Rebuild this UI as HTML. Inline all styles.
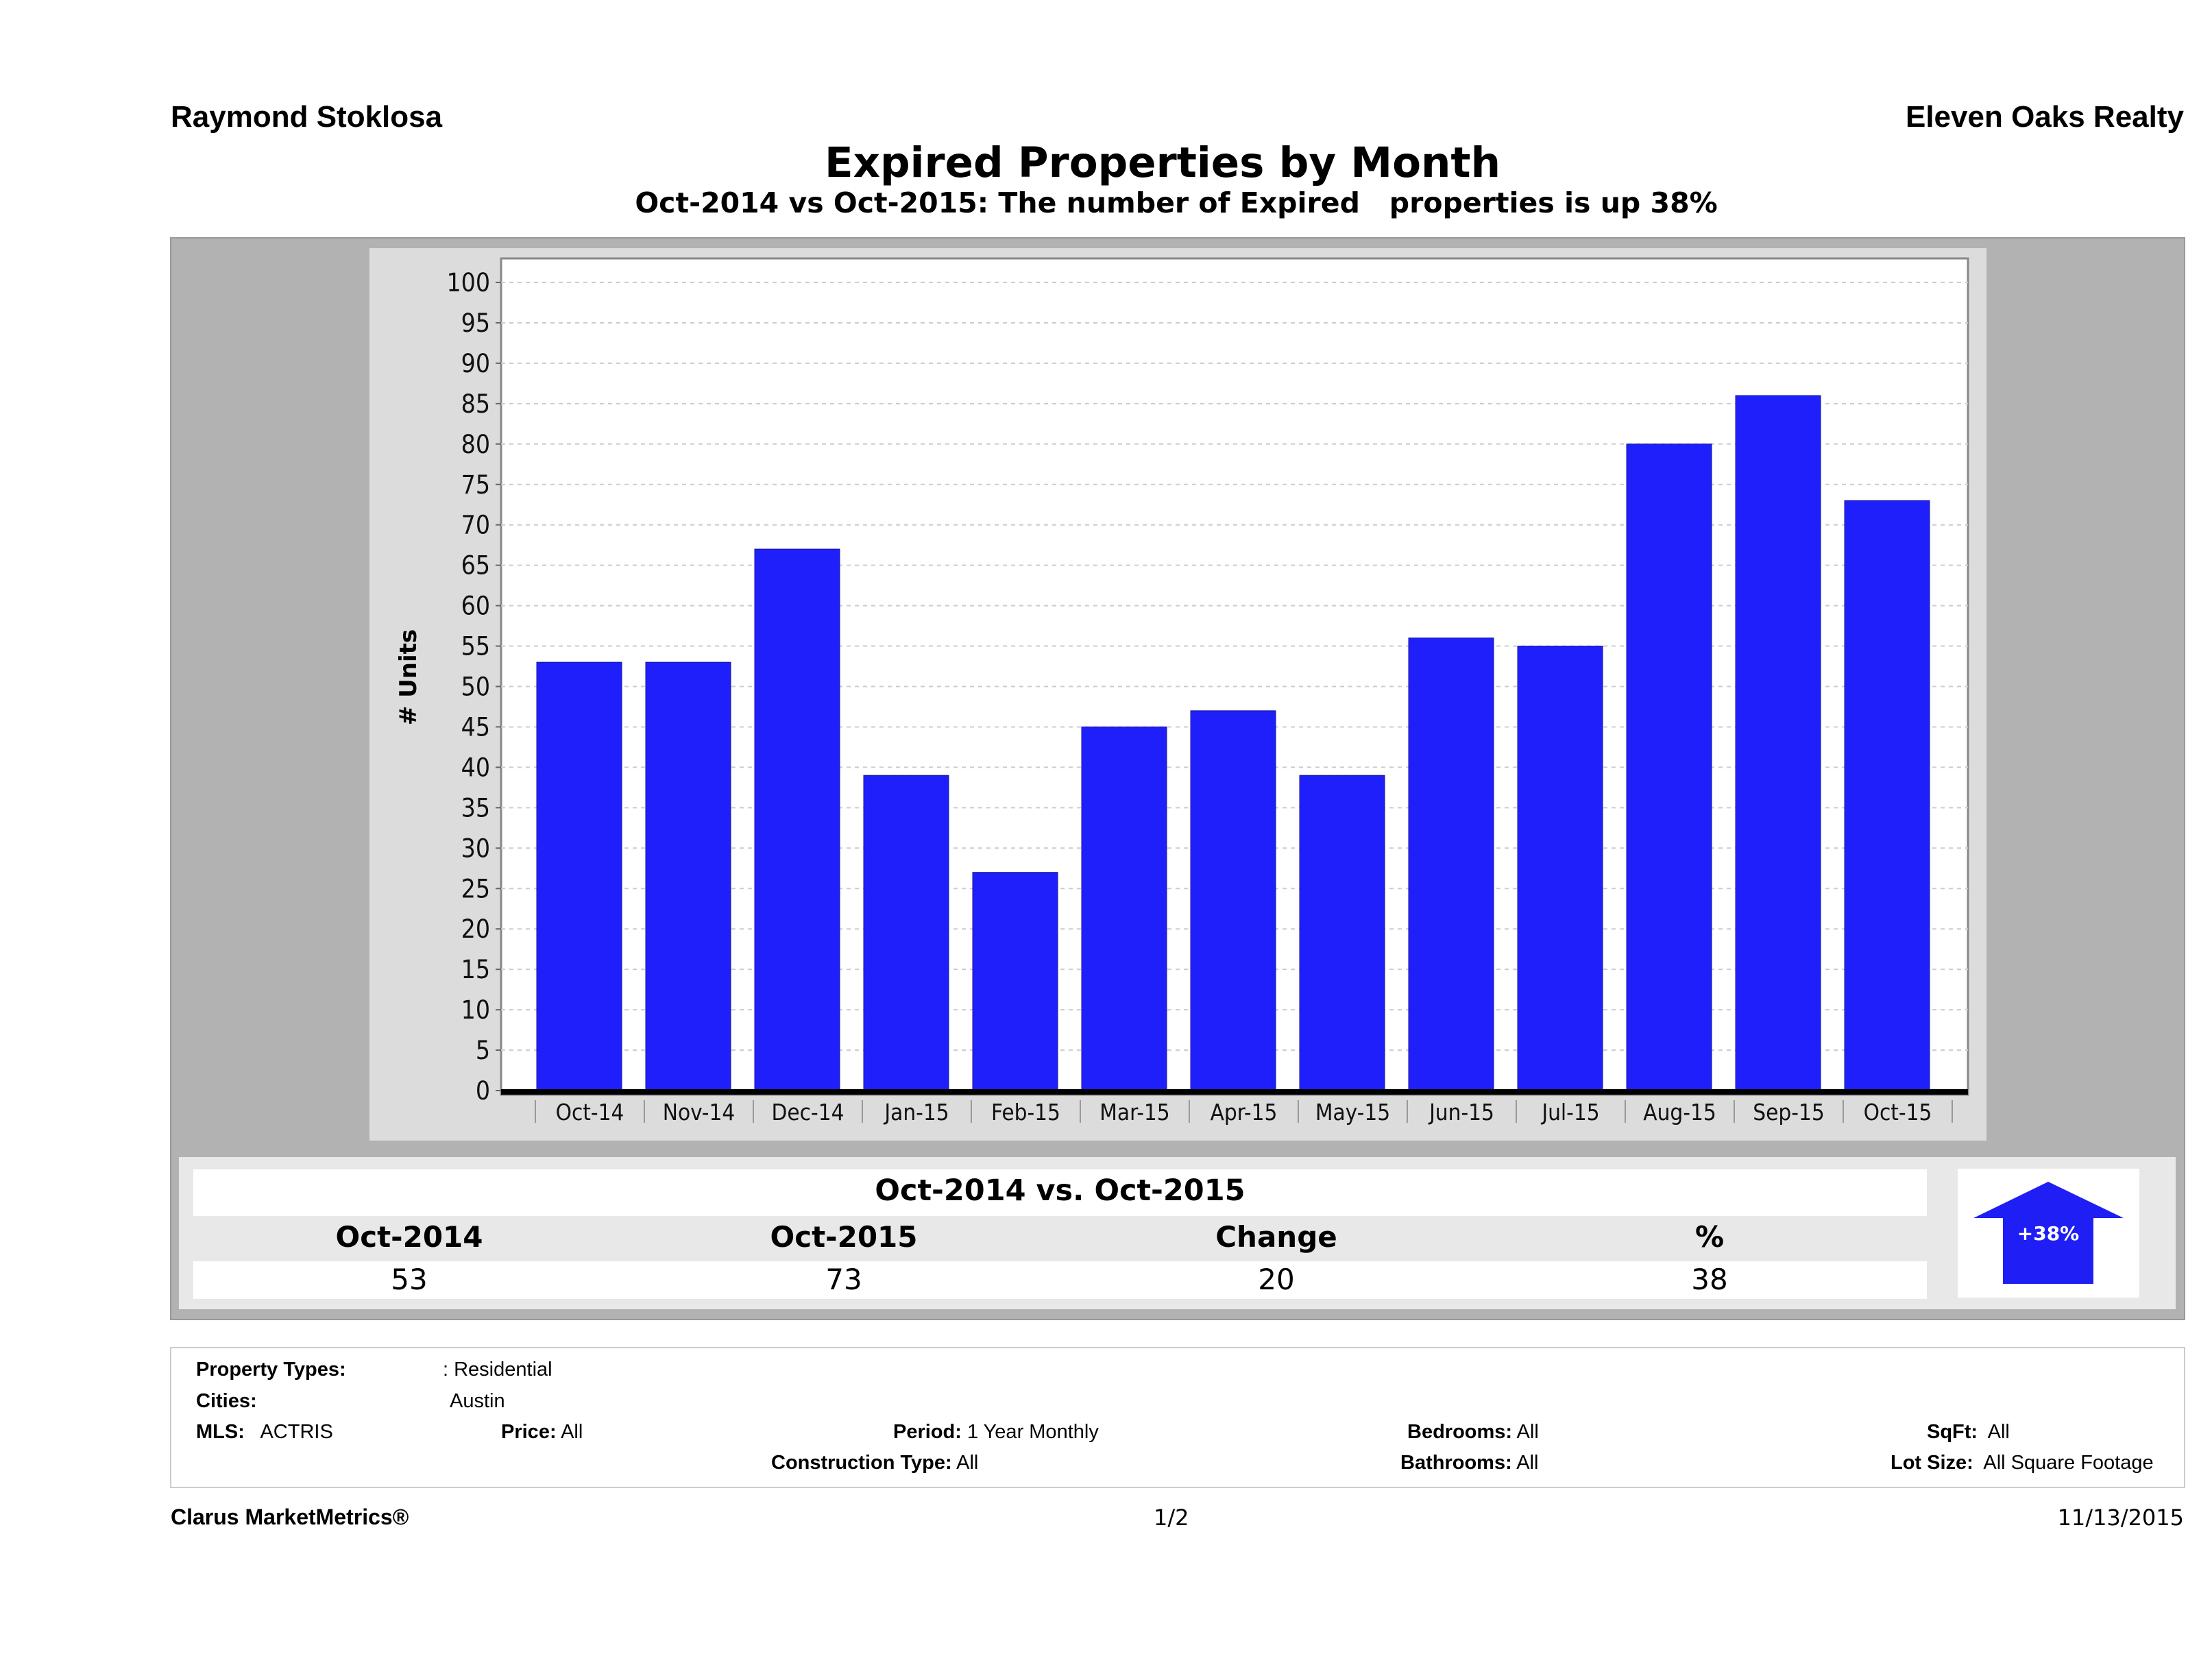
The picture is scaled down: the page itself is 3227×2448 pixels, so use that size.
<!DOCTYPE html>
<html><head><meta charset="utf-8"><style>
body{margin:0;width:3227px;height:2448px;background:#fff;position:relative;font-family:"DejaVu Sans","Liberation Sans",sans-serif;overflow:hidden}
.a{position:absolute;white-space:nowrap}
.b{font-weight:bold}
</style></head><body>
<div class="a b" style="left:249px;top:146px;font-size:44px;font-family:'Liberation Sans',sans-serif">Raymond Stoklosa</div>
<div class="a b" style="right:41px;top:146px;font-size:44px;font-family:'Liberation Sans',sans-serif">Eleven Oaks Realty</div>
<div class="a b" style="left:0;width:3392px;text-align:center;top:202px;font-size:61px">Expired Properties by Month</div>
<div class="a b" style="left:0;width:3432px;text-align:center;top:272px;font-size:41px">Oct-2014 vs Oct-2015: The number of Expired &nbsp; properties is up 38%</div>

<div class="a" style="left:248px;top:346px;width:2936px;height:1576px;background:#b2b2b2;border:2px solid #999"></div>
<div class="a" style="left:539px;top:362px;width:2359px;height:1302px;background:#dcdcdc"></div>
<svg class="a" style="left:0;top:0" width="3227" height="1700" id="chart"></svg>

<div class="a" style="left:261px;top:1688px;width:2913px;height:222px;background:#e8e8e8"></div>
<div class="a" style="left:282px;top:1706px;width:2529px;height:68px;background:#fff"></div>
<div class="a" style="left:282px;top:1840px;width:2529px;height:55px;background:#fff"></div>
<div class="a b" style="left:282px;width:2529px;text-align:center;top:1712px;font-size:43px">Oct-2014 vs. Oct-2015</div>
<div class="a b" style="left:397px;width:400px;text-align:center;top:1780px;font-size:42px">Oct-2014</div>
<div class="a b" style="left:1031px;width:400px;text-align:center;top:1780px;font-size:42px">Oct-2015</div>
<div class="a b" style="left:1662px;width:400px;text-align:center;top:1780px;font-size:42px">Change</div>
<div class="a b" style="left:2294px;width:400px;text-align:center;top:1780px;font-size:42px">%</div>
<div class="a" style="left:397px;width:400px;text-align:center;top:1842px;font-size:42px">53</div>
<div class="a" style="left:1031px;width:400px;text-align:center;top:1842px;font-size:42px">73</div>
<div class="a" style="left:1662px;width:400px;text-align:center;top:1842px;font-size:42px">20</div>
<div class="a" style="left:2294px;width:400px;text-align:center;top:1842px;font-size:42px">38</div>
<div class="a" style="left:2856px;top:1705px;width:265px;height:188px;background:#fff"></div>
<svg class="a" style="left:0;top:0" width="3227" height="1950">
<polygon points="2988,1724 3098,1777 3054,1777 3054,1873 2922,1873 2922,1777 2879,1777" fill="#1f1ff5"/>
<text x="2988" y="1809" fill="#fff" font-size="28" font-weight="bold" text-anchor="middle" font-family="DejaVu Sans,sans-serif">+38%</text>
</svg>

<div class="a" style="left:248px;top:1965px;width:2936px;height:202px;border:2px solid #ccc"></div>
<div class="a" style="left:0;top:0;font-size:29px;font-family:'Liberation Sans',sans-serif">
<div class="a b" style="left:286px;top:1982px">Property Types:</div>
<div class="a" style="left:646px;top:1982px">: Residential</div>
<div class="a b" style="left:286px;top:2028px">Cities:</div>
<div class="a" style="left:656px;top:2028px">Austin</div>
<div class="a" style="left:286px;top:2073px"><b>MLS:</b>&nbsp;&nbsp; ACTRIS</div>
<div class="a" style="left:731px;top:2073px"><b>Price:</b> All</div>
<div class="a" style="left:1303px;top:2073px"><b>Period:</b> 1 Year Monthly</div>
<div class="a" style="left:2053px;top:2073px"><b>Bedrooms:</b> All</div>
<div class="a" style="left:2811px;top:2073px"><b>SqFt:</b>&nbsp; All</div>
<div class="a" style="left:1125px;top:2118px"><b>Construction Type:</b> All</div>
<div class="a" style="left:2043px;top:2118px"><b>Bathrooms:</b> All</div>
<div class="a" style="left:2758px;top:2118px"><b>Lot Size:</b>&nbsp; All Square Footage</div>
</div>
<div class="a b" style="left:249px;top:2195px;font-size:32px;font-family:'Liberation Sans',sans-serif">Clarus MarketMetrics®</div>
<div class="a" style="left:1683px;top:2195px;font-size:32px">1/2</div>
<div class="a" style="right:41px;top:2195px;font-size:32px">11/13/2015</div>

<script>
const categories=["Oct-14","Nov-14","Dec-14","Jan-15","Feb-15","Mar-15","Apr-15","May-15","Jun-15","Jul-15","Aug-15","Sep-15","Oct-15"];
const values=[53,53,67,39,27,45,47,39,56,55,80,86,73];
const yTicks=[0,5,10,15,20,25,30,35,40,45,50,55,60,65,70,75,80,85,90,95,100];
const svg=document.getElementById('chart');
const NS='http://www.w3.org/2000/svg';
const L=731,R=2871,T=377,B=1597,y0=1591,y100=412,x0=781,step=159;
const y=v=>y0-(v/100)*(y0-y100);
const x=i=>x0+i*step;
function mk(t,a){const e=document.createElementNS(NS,t);for(const k in a)e.setAttribute(k,a[k]);svg.appendChild(e);return e;}
let plot=mk('rect',{x:L,y:T,width:R-L,height:B-T,fill:'#fff',stroke:'#888','stroke-width':3});


yTicks.forEach(v=>{
 let g=mk('line',{x1:L,x2:R,y1:y(v),y2:y(v),stroke:'#ccc','stroke-width':2,'stroke-dasharray':'6,6'});
 
 
 mk('line',{x1:L-8,x2:L,y1:y(v),y2:y(v),stroke:'#666','stroke-width':2});
 let t=mk('text',{x:L-16,y:y(v)+13,'font-size':37,'text-anchor':'end','font-family':'DejaVu Sans Condensed,DejaVu Sans,sans-serif',fill:'#111'});
 t.textContent=v;
 
 
});
categories.forEach((c,i)=>{
 let r=mk('rect',{x:x(i)+2,y:y(values[i]),width:124,height:y0-y(values[i]),fill:'#1f1ffc',stroke:'#1414a0','stroke-width':1});
 
 
 mk('line',{x1:x(i),x2:x(i),y1:1605,y2:1638,stroke:'#999','stroke-width':2});
 let t=mk('text',{x:x(i)+step/2,y:1634,'font-size':33,'text-anchor':'middle','font-family':'DejaVu Sans Condensed,DejaVu Sans,sans-serif',fill:'#111'});
 t.textContent=c;
 
 
});
mk('line',{x1:x(13),x2:x(13),y1:1605,y2:1638,stroke:'#999','stroke-width':2});
let base=mk('rect',{x:L,y:y0-2,width:R-L,height:8,fill:'#000'});


let yt=mk('text',{x:0,y:0,'font-size':34,'font-weight':'bold','text-anchor':'middle',transform:'translate(607,988) rotate(-90)','font-family':'DejaVu Sans,sans-serif'});
yt.textContent='# Units';


</script>
</body></html>
